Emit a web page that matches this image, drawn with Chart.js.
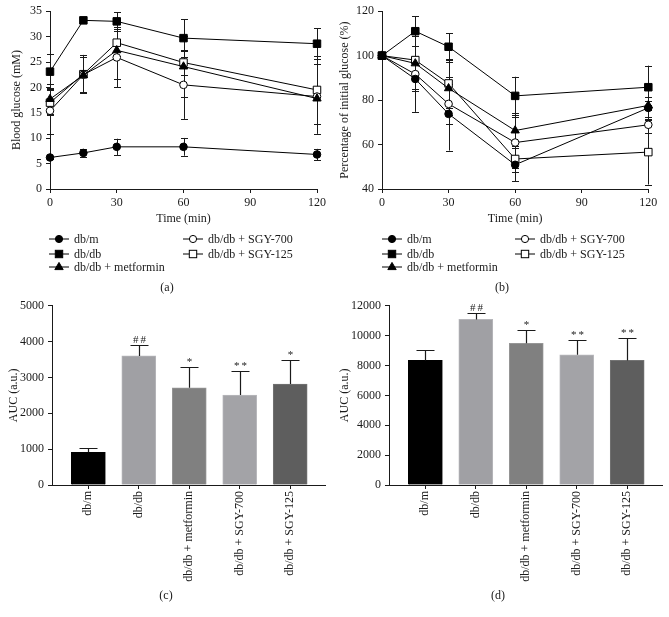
<!DOCTYPE html>
<html>
<head>
<meta charset="utf-8">
<script src="https://cdn.jsdelivr.net/npm/chart.js@4.4.1/dist/chart.umd.min.js"></script>
<style>
  html, body { margin: 0; padding: 0; background: #fff; }
  #wrap { position: relative; width: 669px; height: 617px; overflow: hidden; font-family: "Liberation Serif", "DejaVu Serif", serif; color: #1a1a1a; }
  canvas { position: absolute; }
  .lbl { position: absolute; font-size: 12px; transform: translate(-50%, -50%); white-space: nowrap; }
  .leg { position: absolute; display: flex; align-items: center; height: 14px; font-size: 12px; white-space: nowrap; filter: grayscale(1); will-change: transform; }
  .leg svg { margin-right: 5px; }
</style>
</head>
<body>
<div id="wrap">
  <canvas id="ca" width="335" height="230" style="left:0;top:0"></canvas>
  <canvas id="cb" width="334" height="230" style="left:335px;top:0"></canvas>
  <canvas id="cc" width="335" height="300" style="left:0;top:290px"></canvas>
  <canvas id="cd" width="334" height="300" style="left:335px;top:290px"></canvas>
  <div class="lbl" style="left:167px;top:287px">(a)</div>
  <div class="lbl" style="left:502px;top:287px">(b)</div>
  <div class="lbl" style="left:166px;top:595px">(c)</div>
  <div class="lbl" style="left:498px;top:595px">(d)</div>
</div>
<script>
// ---------------- DATA ----------------
const timePoints = [0, 15, 30, 60, 120];
const groups = ['db/m', 'db/db', 'db/db + metformin', 'db/db + SGY-700', 'db/db + SGY-125'];

// (a) Blood glucose (mM), mean and SD
const glucoseDbm  = [6.2, 7.1, 8.3, 8.3, 6.8];
const glucoseDbdb = [23.1, 33.2, 33.0, 29.7, 28.6];
const glucoseMet  = [17.7, 22.4, 27.3, 24.1, 17.8];
const glucoseS700 = [15.4, 22.5, 25.9, 20.5, 18.2];
const glucoseS125 = [17.0, 22.6, 28.8, 24.9, 19.5];
const glucoseDbmErr  = [0.3, 0.75, 1.6, 1.75, 1.1];
const glucoseDbdbErr = [3.4, 0.4, 1.8, 3.7, 3.0];
const glucoseMetErr  = [3.0, 3.6, 5.6, 6.0, 6.9];
const glucoseS700Err = [4.5, 3.4, 5.9, 6.7, 7.3];
const glucoseS125Err = [2.5, 3.8, 2.6, 2.4, 6.7];

// (b) Percentage of initial glucose (%)
const pctDbm  = [100, 89.5, 73.8, 50.9, 76.5];
const pctDbdb = [100, 111.0, 104.0, 81.9, 85.8];
const pctMet  = [100, 96.5, 85.3, 66.3, 77.6];
const pctS700 = [100, 91.7, 78.3, 60.9, 68.9];
const pctS125 = [100, 98.0, 87.5, 53.5, 56.6];
const pctDbmErr  = [0, 14.8, 16.5, 7.5, 5.0];
const pctDbdbErr = [0, 6.8, 6.0, 8.6, 9.7];
const pctMetErr  = [0, 12.5, 12.0, 8.0, 2.0];
const pctS700Err = [0, 7.5, 9.0, 11.5, 3.5];
const pctS125Err = [0, 12.8, 11.0, 6.0, 14.6];

// (c) AUC of blood glucose, (d) AUC of percentage
const aucGlucose    = [910, 3600, 2710, 2510, 2815];
const aucGlucoseErr = [110, 295, 570, 660, 680];
const aucGlucoseSig = ['', '##', '*', '**', '*'];
const aucPct    = [8340, 11080, 9480, 8720, 8340];
const aucPctErr = [715, 400, 915, 960, 1475];
const aucPctSig = ['', '##', '*', '**', '**'];

// ---------------- STYLE ----------------
const FONT = '"Liberation Serif", "DejaVu Serif", serif';
const INK = '#1a1a1a';
const markers = [
  { style: 'circle',   fill: '#000', r: 3.8 },
  { style: 'rect',     fill: '#000', r: 5.3 },
  { style: 'triangle', fill: '#000', r: 4.8 },
  { style: 'circle',   fill: '#fff', r: 3.8 },
  { style: 'rect',     fill: '#fff', r: 5.3 }
];
const barFill   = ['#000000', '#a0a0a4', '#808080', '#a3a3a7', '#5e5e5e'];
const barBorder = ['#000000', '#b6b6ba', '#969696', '#b8b8bc', '#747474'];

// ---------------- PLUGINS ----------------
const lineErrPlugin = {
  id: 'lineErr',
  beforeDatasetsDraw(chart) {
    const { ctx, scales: { x, y } } = chart;
    ctx.save();
    ctx.strokeStyle = INK;
    ctx.lineWidth = 1;
    chart.data.datasets.forEach(ds => {
      ds.data.forEach((p, i) => {
        const e = ds.err[i];
        if (!e) return;
        const px = Math.round(x.getPixelForValue(p.x)) + 0.5;
        const y1 = y.getPixelForValue(p.y + e);
        const y2 = y.getPixelForValue(p.y - e);
        ctx.beginPath();
        ctx.moveTo(px, y1); ctx.lineTo(px, y2);
        ctx.moveTo(px - 3.5, Math.round(y1) + 0.5); ctx.lineTo(px + 3.5, Math.round(y1) + 0.5);
        ctx.moveTo(px - 3.5, Math.round(y2) + 0.5); ctx.lineTo(px + 3.5, Math.round(y2) + 0.5);
        ctx.stroke();
      });
    });
    ctx.restore();
  }
};

const barErrPlugin = {
  id: 'barErr',
  afterDatasetsDraw(chart) {
    const { ctx, scales: { x, y } } = chart;
    const ds = chart.data.datasets[0];
    ctx.save();
    ctx.strokeStyle = INK;
    ctx.fillStyle = INK;
    ctx.lineWidth = 1.2;
    ctx.font = '11px ' + FONT;
    ctx.textAlign = 'center';
    ctx.textBaseline = 'alphabetic';
    try { ctx.letterSpacing = '2px'; } catch (e) {}
    ds.data.forEach((p, i) => {
      const px = Math.round(x.getPixelForValue(p.x)) + 0.5;
      const top = y.getPixelForValue(p.y);
      const ye = Math.round(y.getPixelForValue(p.y + ds.err[i])) + 0.5;
      ctx.beginPath();
      ctx.moveTo(px, top); ctx.lineTo(px, ye);
      ctx.moveTo(px - 9, ye); ctx.lineTo(px + 9, ye);
      ctx.stroke();
      if (ds.sig[i]) ctx.fillText(ds.sig[i], px + 1, ye - 3);
    });
    ctx.restore();
  }
};

// ---------------- BUILDERS ----------------
const tickFont = { family: FONT, size: 12 };
const titleFont = { family: FONT, size: 12 };
const plain = (v) => String(v);

function axisCommon() {
  return {
    offset: false,
    grid: { display: true, offset: false, drawOnChartArea: false, drawTicks: true, tickLength: 4, color: INK, lineWidth: 1 },
    border: { display: true, color: INK, width: 1 },
  };
}

function lineChart(id, series, errs, yMin, yMax, yStep, yTitle, yWidth, yTitlePad, padRight) {
  const datasets = series.map((vals, k) => ({
    label: groups[k],
    data: vals.map((v, i) => ({ x: timePoints[i], y: v })),
    err: errs[k],
    borderColor: '#000',
    borderWidth: 1,
    pointStyle: markers[k].style,
    pointRadius: markers[k].r,
    pointBackgroundColor: markers[k].fill,
    pointBorderColor: '#000',
    pointBorderWidth: 1,
    tension: 0,
    fill: false,
    clip: false
  }));
  return new Chart(document.getElementById(id), {
    type: 'line',
    data: { datasets },
    plugins: [lineErrPlugin],
    options: {
      responsive: false, animation: false, events: [],
      layout: { padding: { left: 0, top: 11, right: padRight, bottom: 0 } },
      plugins: { legend: { display: false }, tooltip: { enabled: false } },
      scales: {
        x: Object.assign(axisCommon(), {
          type: 'linear', min: 0, max: 120,
          ticks: { stepSize: 30, font: tickFont, color: INK, padding: 3, maxRotation: 0, callback: plain },
          title: { display: true, text: 'Time (min)', font: titleFont, color: INK, padding: { top: 0, bottom: 3.8 } },
          afterFit(s) { s.height = 41; }
        }),
        y: Object.assign(axisCommon(), {
          type: 'linear', min: yMin, max: yMax,
          ticks: { stepSize: yStep, font: tickFont, color: INK, padding: 4, callback: plain },
          title: { display: true, text: yTitle, font: titleFont, color: INK, padding: { top: yTitlePad, bottom: 0 } },
          afterFit(s) { s.width = yWidth; }
        })
      }
    }
  });
}

function barChart(id, vals, errs, sigs, yMax, yStep, yWidth, yTitlePad, padRight) {
  return new Chart(document.getElementById(id), {
    type: 'bar',
    data: {
      datasets: [{
        data: vals.map((v, i) => ({ x: i, y: v })),
        err: errs, sig: sigs,
        backgroundColor: barFill,
        borderColor: barBorder,
        borderWidth: 1,
        barThickness: 34,
        clip: false
      }]
    },
    plugins: [barErrPlugin],
    options: {
      responsive: false, animation: false, events: [],
      layout: { padding: { left: 0, top: 15.7, right: padRight, bottom: 0 } },
      plugins: { legend: { display: false }, tooltip: { enabled: false } },
      scales: {
        x: Object.assign(axisCommon(), {
          type: 'linear', min: -0.72, max: 4.69,
          afterBuildTicks(s) { s.ticks = groups.map((g, i) => ({ value: i })); },
          ticks: { autoSkip: false, minRotation: 90, maxRotation: 90, font: tickFont, color: INK, padding: 2,
                   callback: (v) => groups[v] },
          afterFit(s) { s.height = 105; }
        }),
        y: Object.assign(axisCommon(), {
          type: 'linear', min: 0, max: yMax,
          ticks: { stepSize: yStep, font: tickFont, color: INK, padding: 4, callback: plain },
          title: { display: true, text: 'AUC (a.u.)', font: titleFont, color: INK, padding: { top: yTitlePad, bottom: 0 } },
          afterFit(s) { s.width = yWidth; }
        })
      }
    }
  });
}

lineChart('ca', [glucoseDbm, glucoseDbdb, glucoseMet, glucoseS700, glucoseS125],
  [glucoseDbmErr, glucoseDbdbErr, glucoseMetErr, glucoseS700Err, glucoseS125Err],
  0, 35, 5, 'Blood glucose (mM)', 50, 9.8, 18);
lineChart('cb', [pctDbm, pctDbdb, pctMet, pctS700, pctS125],
  [pctDbmErr, pctDbdbErr, pctMetErr, pctS700Err, pctS125Err],
  40, 120, 20, 'Percentage of initial glucose (%)', 47, 2.8, 20.7);
barChart('cc', aucGlucose, aucGlucoseErr, aucGlucoseSig, 5000, 1000, 52, 6.8, 10);
barChart('cd', aucPct, aucPctErr, aucPctSig, 12000, 2000, 54, 2.8, 7);

// ---------------- HTML LEGENDS ----------------
function markerSvg(m) {
  let shape = '';
  if (m.style === 'circle') shape = `<circle cx="10" cy="7" r="3.6" fill="${m.fill}" stroke="#000" stroke-width="1"/>`;
  else if (m.style === 'rect') shape = `<rect x="6.3" y="3.3" width="7.4" height="7.4" fill="${m.fill}" stroke="#000" stroke-width="1"/>`;
  else shape = `<polygon points="10,2.4 14.2,9.6 5.8,9.6" fill="${m.fill}" stroke="#000" stroke-width="1"/>`;
  return `<svg width="20" height="14" viewBox="0 0 20 14"><line x1="0" y1="7" x2="20" y2="7" stroke="#000" stroke-width="1"/>${shape}</svg>`;
}
function legend(leftCol, rightCol) {
  const wrap = document.getElementById('wrap');
  const rows = [239.3, 254, 266.7];
  const place = [[leftCol, 0], [leftCol, 1], [leftCol, 2], [rightCol, 0], [rightCol, 1]];
  groups.forEach((g, k) => {
    const d = document.createElement('div');
    d.className = 'leg';
    d.style.left = place[k][0] + 'px';
    d.style.top = (rows[place[k][1]] - 7) + 'px';
    d.innerHTML = markerSvg(markers[k]) + '<span>' + g + '</span>';
    wrap.appendChild(d);
  });
}
legend(49.3, 182.7);
legend(381.7, 515);
</script>
</body>
</html>
